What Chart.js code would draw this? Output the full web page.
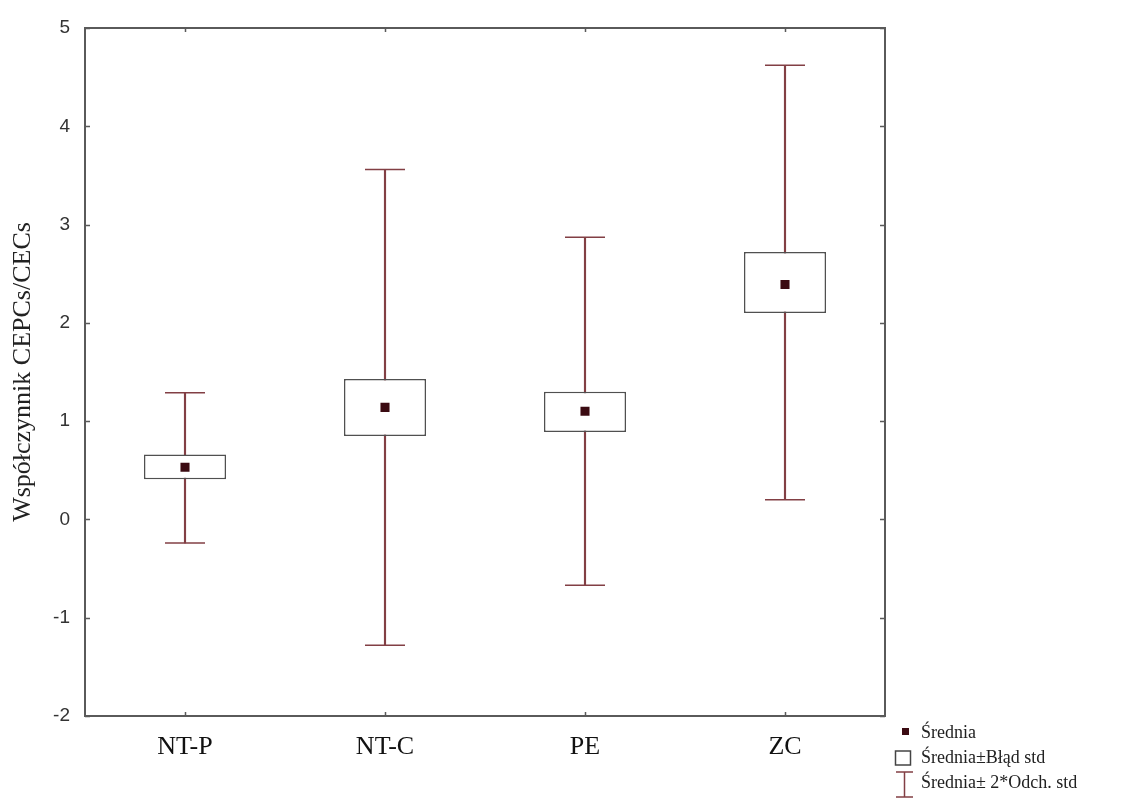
<!DOCTYPE html>
<html>
<head>
<meta charset="utf-8">
<script src="https://cdn.jsdelivr.net/npm/chart.js@4.4.1/dist/chart.umd.min.js"></script>
<style>
  body { margin: 0; background: #fff; }
  #wrap { width: 1123px; height: 799px; }
</style>
</head>
<body>
<div id="wrap"><canvas id="chart"></canvas></div>
<script>
// data
const groups = ['NT-P', 'NT-C', 'PE', 'ZC'];
const means = [0.53, 1.14, 1.10, 2.39];
const seLow = [0.41, 0.85, 0.89, 2.10];
const seHigh = [0.66, 1.43, 1.30, 2.72];
const sdLow = [-0.24, -1.28, -0.67, 0.20];
const sdHigh = [1.29, 3.56, 2.87, 4.62];
const yTicks = [-2, -1, 0, 1, 2, 3, 4, 5];
const legendLabels = ['Średnia', 'Średnia±Błąd std', 'Średnia± 2*Odch. std'];

const whiskerColor = '#823f44';
const boxColor = '#505050';
const meanColor = '#3b0b12';

// frame round the plot + small inward ticks
const framePlugin = {
  id: 'frame',
  afterDraw(chart) {
    const { ctx, chartArea: a, scales } = chart;
    ctx.save();
    ctx.strokeStyle = '#5a5a5a';
    ctx.lineWidth = 2;
    ctx.strokeRect(a.left, a.top, a.right - a.left, a.bottom - a.top);
    ctx.lineWidth = 1.5;
    ctx.beginPath();
    scales.y.ticks.forEach(t => {
      const y = Math.round(scales.y.getPixelForValue(t.value)) + 0.5;
      ctx.moveTo(a.left, y); ctx.lineTo(a.left + 5, y);
      ctx.moveTo(a.right, y); ctx.lineTo(a.right - 5, y);
    });
    groups.forEach((g, i) => {
      const x = Math.round(scales.x.getPixelForValue(i)) + 0.5;
      ctx.moveTo(x, a.top); ctx.lineTo(x, a.top + 4);
      ctx.moveTo(x, a.bottom); ctx.lineTo(x, a.bottom - 4);
    });
    ctx.stroke();
    ctx.restore();
  }
};

// legend in the bottom right corner
const legendPlugin = {
  id: 'boxLegend',
  afterDraw(chart) {
    const ctx = chart.ctx;
    const x0 = 895, tx = 921;
    const rows = [733, 758, 783];
    ctx.save();
    // mean marker
    ctx.fillStyle = meanColor;
    ctx.fillRect(x0 + 7, rows[0] - 5, 7, 7);
    // box
    ctx.strokeStyle = '#444';
    ctx.lineWidth = 1.5;
    ctx.strokeRect(x0 + 0.5, rows[1] - 7, 15, 14);
    // whisker
    ctx.strokeStyle = whiskerColor;
    ctx.beginPath();
    ctx.moveTo(x0 + 1, rows[2] - 11); ctx.lineTo(x0 + 18, rows[2] - 11);
    ctx.moveTo(x0 + 9.5, rows[2] - 11); ctx.lineTo(x0 + 9.5, rows[2] + 14);
    ctx.moveTo(x0 + 1, rows[2] + 14); ctx.lineTo(x0 + 18, rows[2] + 14);
    ctx.stroke();
    ctx.fillStyle = '#222';
    ctx.font = '18px "Liberation Serif", serif';
    ctx.textBaseline = 'middle';
    legendLabels.forEach((t, i) => ctx.fillText(t, tx, rows[i]));
    ctx.restore();
  }
};

new Chart(document.getElementById('chart'), {
  data: {
    labels: groups,
    datasets: [
      {
        // mean marker
        type: 'line',
        data: means,
        showLine: false,
        pointStyle: 'rect',
        pointRadius: 6.4,
        pointBackgroundColor: meanColor,
        pointBorderWidth: 0,
        order: 1
      },
      {
        // mean ± std error box
        type: 'bar',
        data: groups.map((g, i) => [seLow[i], seHigh[i]]),
        backgroundColor: '#fff',
        borderColor: boxColor,
        borderWidth: 1.5,
        borderSkipped: false,
        barPercentage: 0.41,
        categoryPercentage: 1,
        grouped: false,
        order: 2
      },
      {
        // whisker stem, mean ± 2 sd
        type: 'bar',
        data: groups.map((g, i) => [sdLow[i], sdHigh[i]]),
        backgroundColor: whiskerColor,
        borderWidth: 0,
        barThickness: 1.5,
        grouped: false,
        order: 3
      },
      {
        type: 'line',
        data: sdHigh,
        showLine: false,
        pointStyle: 'line',
        pointRadius: 20,
        pointBorderColor: whiskerColor,
        pointBorderWidth: 1.5,
        order: 3
      },
      {
        type: 'line',
        data: sdLow,
        showLine: false,
        pointStyle: 'line',
        pointRadius: 20,
        pointBorderColor: whiskerColor,
        pointBorderWidth: 1.5,
        order: 3
      }
    ]
  },
  options: {
    responsive: true,
    maintainAspectRatio: false,
    animation: false,
    events: [],
    layout: { padding: { top: 28, right: 238, bottom: 0, left: 0 } },
    scales: {
      x: {
        type: 'category',
        offset: true,
        grid: { display: false },
        border: { display: false },
        ticks: {
          color: '#111',
          padding: 8,
          font: { family: '"Liberation Serif", serif', size: 26 }
        },
        afterFit: s => { s.height = 83; }
      },
      y: {
        min: -2,
        max: 5,
        grid: { display: false },
        border: { display: false },
        afterBuildTicks: s => { s.ticks = yTicks.map(v => ({ value: v })); },
        ticks: {
          color: '#333',
          padding: 7,
          font: { family: '"Liberation Sans", Arial, sans-serif', size: 19 }
        },
        title: {
          display: true,
          text: 'Współczynnik CEPCs/CECs',
          color: '#222',
          padding: { top: 8, bottom: 0 },
          font: { family: '"Liberation Serif", serif', size: 26 }
        },
        afterFit: s => { s.width = 85; }
      }
    },
    plugins: {
      legend: { display: false },
      tooltip: { enabled: false }
    }
  },
  plugins: [framePlugin, legendPlugin]
});
</script>
</body>
</html>
